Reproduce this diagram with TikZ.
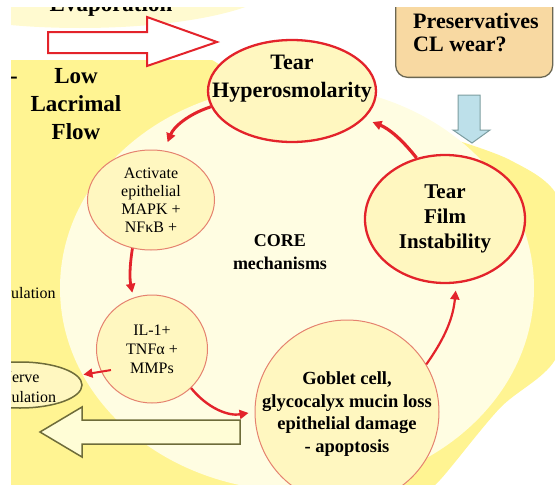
\documentclass[tikz,border=0pt]{standalone}
\usepackage{fontspec}
\setmainfont{Liberation Serif}
\usepackage{tikz}
\usetikzlibrary{shapes.geometric, arrows.meta}
\usepackage{xcolor}
\definecolor{amarelo}{HTML}{FFF492}
\definecolor{creme}{HTML}{FFFDE2}
\definecolor{topo}{HTML}{FFFAD0}
\definecolor{miolo}{HTML}{FFF7C0}
\definecolor{vermelho}{HTML}{E3232B}
\definecolor{salmao}{HTML}{E5826F}
\definecolor{oliva}{HTML}{6E6C3A}
\definecolor{clarinho}{HTML}{FFFDD6}
\definecolor{bege}{HTML}{F8D9A2}
\definecolor{cinza}{HTML}{6B6752}
\definecolor{azul}{HTML}{BDE0EA}
\definecolor{azulborda}{HTML}{7C9DA0}

\begin{document}
\begin{tikzpicture}[x=1pt, y=-1pt,
    oval/.style={ellipse, draw=salmao, line width=1pt, fill=miolo, inner sep=0pt, align=center},
    ovalforte/.style={ellipse, draw=vermelho, line width=2.3pt, fill=miolo, inner sep=0pt, align=center},
    conexao/.style={draw=vermelho, -{Triangle[length=9pt,width=9pt]}},
    grande/.style={font=\bfseries\fontsize{23}{28}\selectfont, align=center, inner sep=0pt},
    pequeno/.style={font=\fontsize{16}{19}\selectfont, align=center, inner sep=0pt}]
    \useasboundingbox (0,0) rectangle (555,485);
    \begin{scope}
    \clip (11,7) rectangle (555,485);
    % Fundo
    \fill[topo] (80,-20) ellipse [x radius=200, y radius=48];
    \fill[amarelo] (10,60) -- (212,60) -- (300,112) -- plot[smooth] coordinates {(462,142) (510,160) (555,192) (585,270) (555,360) (500,408) (440,480) (415,500)} -- (10,500) -- cycle;
    \fill[creme] (297,288) ellipse [x radius=237, y radius=203];
    % Setas largas
    \draw[vermelho, line width=2pt, fill=white] (48,32) -- (147,32) -- (147,17) -- (217,42) -- (147,66) -- (147,53) -- (48,53) -- cycle;
    \draw[oliva, line width=1.5pt, fill=clarinho] (240,420) -- (82,420) -- (82,407) -- (40,432) -- (82,457) -- (82,444) -- (240,444) -- cycle;
    \draw[azulborda, line width=1pt, fill=azul] (458,95) -- (480,95) -- (480,130) -- (490,130) -- (472,143) -- (453,130) -- (458,130) -- cycle;
    % Textos soltos
    \node[grande, anchor=base] (evap) at (111,11) {Evaporation};
    \node[grande, anchor=base] (traco) at (14,83) {-};
    \node[grande] (fluxo) at (76,104) {Low\\Lacrimal\\Flow};
    \node[pequeno, anchor=base west] (regul) at (11,298) {ulation};
    \node[font=\bfseries\fontsize{18}{23}\selectfont, align=center, inner sep=0pt] (core) at (280,252) {CORE\\mechanisms};
    % Caixa
    \node[draw=cinza, line width=1.3pt, fill=bege, rounded corners=12pt, minimum width=157pt, minimum height=110pt, anchor=south west] (caixa) at (395,78) {};
    \node[font=\bfseries\fontsize{22}{23}\selectfont, align=left, anchor=north west, inner sep=0pt] (caixatexto) at (413,13) {Preservatives\\CL wear?};
    % Elipses
    \node[ovalforte, minimum width=168pt, minimum height=102pt] (hyp) at (292,91) {};
    \node[grande, font=\bfseries\fontsize{22}{28}\selectfont] (hyptexto) at (292,79) {Tear\\Hyperosmolarity};
    \node[ovalforte, minimum width=160pt, minimum height=128pt, font=\bfseries\fontsize{21}{25}\selectfont] (filme) at (445,219) {Tear\\Film\\Instability};
    \node[oval, minimum width=127pt, minimum height=100pt, font=\fontsize{16}{18}\selectfont] (ativa) at (151,200) {Activate\\epithelial\\MAPK +\\NFκB +};
    \node[oval, minimum width=111pt, minimum height=108pt, font=\fontsize{16}{19}\selectfont] (il) at (152,349) {IL-1+\\TNFα +\\MMPs};
    \node[oval, minimum size=184pt] (goblet) at (347,412) {};
    \node[font=\bfseries\fontsize{18.5}{22.5}\selectfont, align=center, inner sep=0pt] (gobtexto) at (347,414) {Goblet cell,\\glycocalyx mucin loss\\epithelial damage\\- apoptosis};
    \node[ellipse, draw=oliva, line width=1.5pt, fill=miolo, minimum width=124pt, minimum height=46pt, inner sep=0pt] (nervo) at (20,385) {};
    \node[pequeno, font=\fontsize{16}{20}\selectfont] (nervotexto) at (20,387) {Nerve\\stimulation};
    % Conexoes
    \foreach \de/\para/\enc/\curva/\lw in {hyp.191/ativa.75/9/25/3, ativa.249/il.110/5/10/2.8, il.315/goblet.180/6/30/2.4, goblet.31/filme.280/7/15/2.2, filme.115/hyp.339/9/15/3.2}
        \draw[conexao, line width=\lw pt, shorten >=\enc pt] (\de) to[bend right=\curva] (\para);
    \draw[conexao, line width=2pt, shorten <=-10pt, shorten >=6pt] (il.204) -- (nervo);
    \end{scope}
    % Margens
    \fill[white] (0,0) rectangle (555,7);
    \fill[white] (0,0) rectangle (11,485);
\end{tikzpicture}
\end{document}
